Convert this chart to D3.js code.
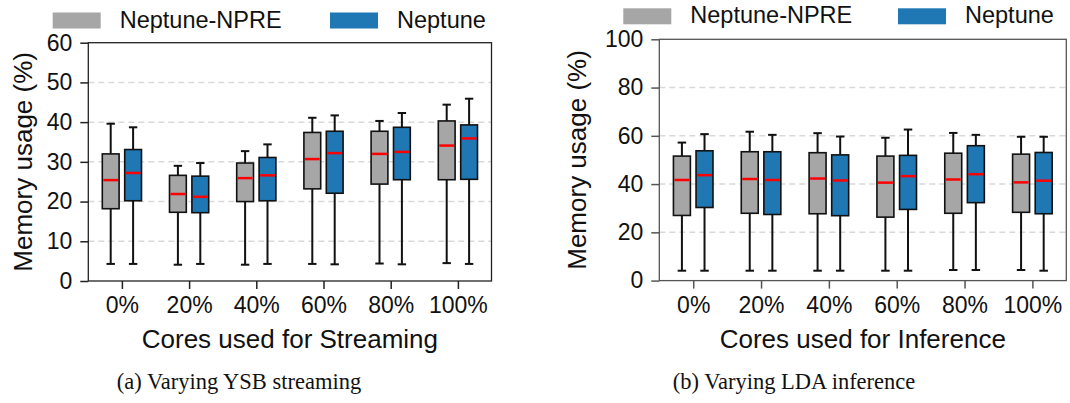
<!DOCTYPE html>
<html>
<head>
<meta charset="utf-8">
<script src="https://cdn.jsdelivr.net/npm/d3@7"></script>
<style>
  body { margin: 0; background: #fff; }
  svg { display: block; font-family: "Liberation Sans", Arial, sans-serif; }
</style>
</head>
<body>
<div id="chart"></div>
<script>
// data: each entry is [whisker low, Q1, median, Q3, whisker high]
var categories = ["0%", "20%", "40%", "60%", "80%", "100%"];
var seriesNames = ["Neptune-NPRE", "Neptune"];

var ysbNpre = [
    [4.3, 18.2, 25.4, 32.0, 39.6],
    [4.1, 17.3, 21.9, 26.6, 29.0],
    [4.1, 20.0, 25.9, 29.7, 32.7],
    [4.3, 23.2, 30.7, 37.4, 41.1],
    [4.4, 24.4, 32.0, 37.7, 40.3],
    [4.5, 25.5, 34.1, 40.3, 44.4]
];
var ysbNeptune = [
    [4.3, 20.2, 27.2, 33.1, 38.7],
    [4.3, 17.2, 21.2, 26.4, 29.7],
    [4.3, 20.2, 26.6, 31.1, 34.4],
    [4.2, 22.1, 32.2, 37.7, 41.7],
    [4.2, 25.5, 32.5, 38.7, 42.3],
    [4.3, 25.6, 35.9, 39.3, 45.9]
];
var ldaNpre = [
    [4.1, 27.0, 41.7, 51.6, 57.2],
    [4.1, 27.9, 42.1, 53.4, 61.7],
    [4.1, 27.7, 42.3, 53.0, 61.1],
    [4.1, 26.3, 40.6, 51.6, 59.2],
    [4.4, 27.9, 41.9, 52.8, 61.2],
    [4.4, 28.3, 40.7, 52.4, 59.6]
];
var ldaNeptune = [
    [4.1, 30.3, 43.7, 53.8, 60.7],
    [4.1, 27.4, 41.7, 53.4, 60.4],
    [4.1, 26.9, 41.5, 52.1, 59.7],
    [4.1, 29.5, 43.3, 51.9, 62.6],
    [4.4, 32.3, 44.1, 55.9, 60.4],
    [4.1, 27.7, 41.4, 53.1, 59.6]
];
var ysbTicks = [0, 10, 20, 30, 40, 50, 60];
var ldaTicks = [0, 20, 40, 60, 80, 100];

var colors = ["#a6a6a6", "#1f77b4"];

var svg = d3.select("#chart").append("svg")
    .attr("width", 1070)
    .attr("height", 403);

function drawPanel(p) {
    var g = svg.append("g");

    var xScale = d3.scalePoint().domain(categories).range([p.left, p.right]).padding(0.5);
    var yScale = d3.scaleLinear().domain([0, p.yMax]).range([p.bottom, p.top]);
    var step = xScale.step();
    var boxW = step * 0.25;
    var offset = step / 6;

    // grid
    g.append("g").selectAll("line")
        .data(p.ticks.filter(function(t) { return t > 0 && t < p.yMax; }))
        .enter().append("line")
        .attr("x1", p.left).attr("x2", p.right)
        .attr("y1", function(d) { return yScale(d); })
        .attr("y2", function(d) { return yScale(d); })
        .style("stroke", "#d9d9d9")
        .style("stroke-width", 1.5)
        .style("stroke-dasharray", "6,4");

    // boxes
    [p.series[0], p.series[1]].forEach(function(data, si) {
        var sg = g.append("g");
        data.forEach(function(d, i) {
            var cx = xScale(categories[i]) + (si === 0 ? -offset : offset);
            var b = sg.append("g");
            // whiskers
            b.append("line").attr("x1", cx).attr("x2", cx)
                .attr("y1", yScale(d[0])).attr("y2", yScale(d[1]));
            b.append("line").attr("x1", cx).attr("x2", cx)
                .attr("y1", yScale(d[3])).attr("y2", yScale(d[4]));
            b.append("line").attr("x1", cx - boxW / 4).attr("x2", cx + boxW / 4)
                .attr("y1", yScale(d[0])).attr("y2", yScale(d[0]));
            b.append("line").attr("x1", cx - boxW / 4).attr("x2", cx + boxW / 4)
                .attr("y1", yScale(d[4])).attr("y2", yScale(d[4]));
            b.selectAll("line").style("stroke", "#111").style("stroke-width", 2);
            b.append("rect")
                .attr("x", cx - boxW / 2)
                .attr("y", yScale(d[3]))
                .attr("width", boxW)
                .attr("height", yScale(d[1]) - yScale(d[3]))
                .style("fill", colors[si])
                .style("stroke", "#111")
                .style("stroke-width", 1.6);
            b.append("line")
                .attr("x1", cx - boxW / 2 + 1).attr("x2", cx + boxW / 2 - 1)
                .attr("y1", yScale(d[2])).attr("y2", yScale(d[2]))
                .style("stroke", "#ff0000")
                .style("stroke-width", 2.5);
        });
    });

    // frame
    g.append("rect")
        .attr("x", p.left).attr("y", p.top)
        .attr("width", p.right - p.left).attr("height", p.bottom - p.top)
        .style("fill", "none")
        .style("stroke", p.spine)
        .style("stroke-width", 1.3);

    // y-axis
    var yAxis = g.append("g")
        .attr("transform", "translate(" + p.left + ",0)")
        .call(d3.axisLeft(yScale).tickValues(p.ticks).tickSize(8).tickPadding(8));
    // x-axis
    var xAxis = g.append("g")
        .attr("transform", "translate(0," + p.bottom + ")")
        .call(d3.axisBottom(xScale).tickSize(8).tickPadding(8));
    [yAxis, xAxis].forEach(function(ax) {
        ax.select(".domain").remove();
        ax.selectAll(".tick line").style("stroke", p.spine).style("stroke-width", 1.5);
        ax.selectAll(".tick text")
            .style("font-family", "'Liberation Sans', Arial, sans-serif")
            .style("font-size", "23px")
            .style("fill", "#111");
    });

    // axis labels
    g.append("text")
        .attr("transform", "translate(" + p.yLabelX + "," + ((p.top + p.bottom) / 2) + ") rotate(-90)")
        .style("text-anchor", "middle")
        .style("font-size", "26px")
        .style("fill", "#111")
        .text("Memory usage (%)");
    g.append("text")
        .attr("x", (p.left + p.right) / 2)
        .attr("y", 348)
        .style("text-anchor", "middle")
        .style("font-size", "26px")
        .style("fill", "#111")
        .text(p.xLabel);

    // legend
    seriesNames.forEach(function(name, si) {
        g.append("rect")
            .attr("x", p.legendX[si]).attr("y", p.legendY)
            .attr("width", 48).attr("height", 16)
            .style("fill", colors[si]);
        g.append("text")
            .attr("x", p.legendX[si] + 67)
            .attr("y", p.legendY + 15)
            .style("font-size", "23.5px")
            .style("fill", "#111")
            .text(name);
    });

    // caption
    g.append("text")
        .attr("x", p.captionX)
        .attr("y", 389)
        .style("text-anchor", "middle")
        .style("font-family", "'Liberation Serif', 'Times New Roman', serif")
        .style("font-size", "22.5px")
        .style("fill", "#111")
        .text(p.caption);
}

drawPanel({
    left: 88.3, right: 491.5, top: 42.7, bottom: 281,
    yMax: 60, ticks: ysbTicks, series: [ysbNpre, ysbNeptune],
    spine: "#222", yLabelX: 31.5,
    xLabel: "Cores used for Streaming",
    legendX: [52.7, 330], legendY: 12.5,
    captionX: 239, caption: "(a) Varying YSB streaming"
});
drawPanel({
    left: 659.3, right: 1066.3, top: 39.3, bottom: 280.6,
    yMax: 100, ticks: ldaTicks, series: [ldaNpre, ldaNeptune],
    spine: "#555", yLabelX: 586,
    xLabel: "Cores used for Inference",
    legendX: [623.3, 898], legendY: 8.3,
    captionX: 794, caption: "(b) Varying LDA inference"
});
</script>
</body>
</html>
